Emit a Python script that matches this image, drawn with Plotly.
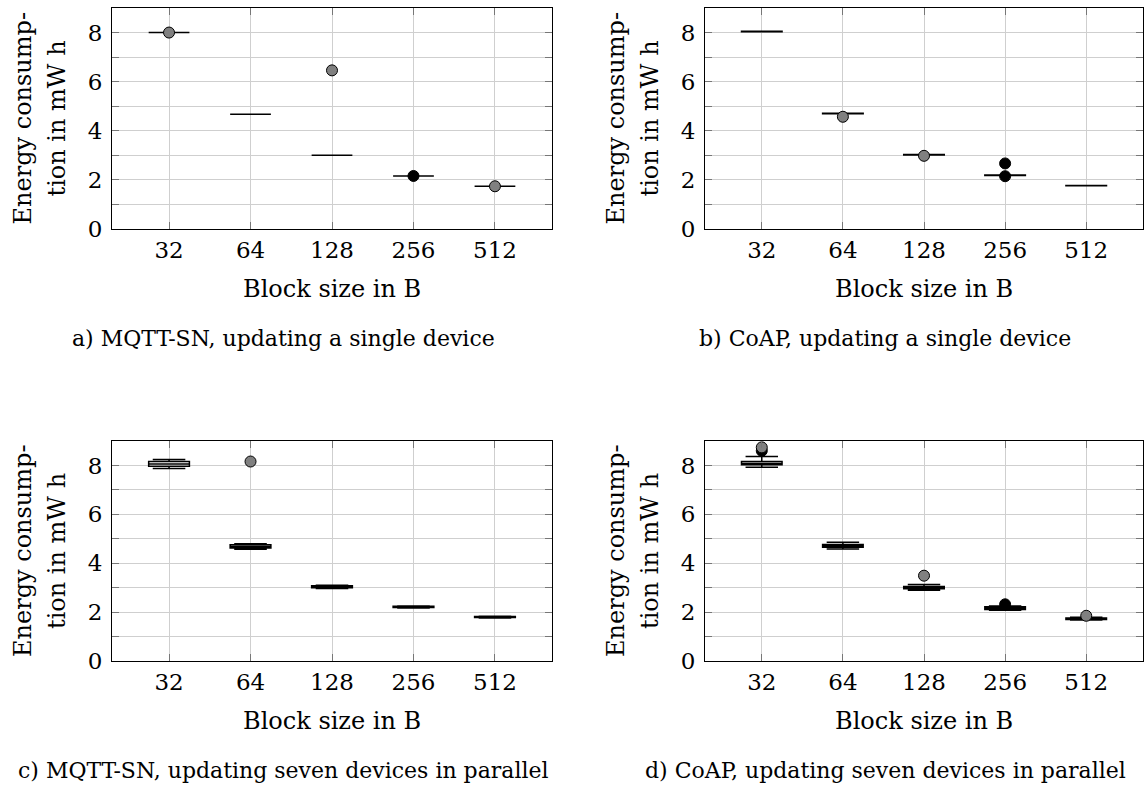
import plotly.graph_objects as go

# ---------------- data ----------------
block_sizes = ["32", "64", "128", "256", "512"]
positions = [1, 2, 3, 4, 5]

# a) MQTT-SN, single device
a_q1 = [8.00, 4.67, 3.00, 2.16, 1.74]
a_med = [8.00, 4.67, 3.00, 2.16, 1.74]
a_q3 = [8.00, 4.67, 3.00, 2.16, 1.74]
a_lo = [8.00, 4.67, 3.00, 2.16, 1.74]
a_hi = [8.00, 4.67, 3.00, 2.16, 1.74]
a_out_x = [1, 3, 4, 5]
a_out_y = [8.00, 6.46, 2.16, 1.74]
a_out_c = ["gray", "gray", "black", "gray"]

# b) CoAP, single device
b_q1 = [8.03, 4.69, 3.01, 2.18, 1.76]
b_med = [8.04, 4.70, 3.02, 2.19, 1.76]
b_q3 = [8.05, 4.71, 3.03, 2.20, 1.77]
b_lo = [8.03, 4.69, 3.01, 2.18, 1.76]
b_hi = [8.05, 4.71, 3.03, 2.20, 1.77]
b_out_x = [2, 3, 4, 4]
b_out_y = [4.57, 2.98, 2.15, 2.67]
b_out_c = ["gray", "gray", "black", "black"]

# c) MQTT-SN, seven devices in parallel
c_q1 = [7.97, 4.62, 3.00, 2.19, 1.78]
c_med = [8.06, 4.68, 3.04, 2.21, 1.80]
c_q3 = [8.16, 4.76, 3.08, 2.24, 1.82]
c_lo = [7.88, 4.57, 2.97, 2.17, 1.76]
c_hi = [8.24, 4.80, 3.10, 2.25, 1.83]
c_out_x = [2]
c_out_y = [8.16]
c_out_c = ["gray"]

# d) CoAP, seven devices in parallel
d_q1 = [8.03, 4.65, 2.96, 2.11, 1.70]
d_med = [8.08, 4.71, 3.00, 2.16, 1.73]
d_q3 = [8.16, 4.77, 3.05, 2.22, 1.76]
d_lo = [7.93, 4.58, 2.89, 2.08, 1.68]
d_hi = [8.37, 4.86, 3.13, 2.25, 1.79]
d_out_x = [1, 1, 3, 4, 5]
d_out_y = [8.60, 8.74, 3.49, 2.32, 1.85]
d_out_c = ["black", "gray", "gray", "black", "gray"]

captions = [
    "a) MQTT-SN, updating a single device",
    "b) CoAP, updating a single device",
    "c) MQTT-SN, updating seven devices in parallel",
    "d) CoAP, updating seven devices in parallel",
]
x_title = "Block size in B"
y_title_lines = ["Energy consump-", "tion in mW h"]
y_ticks = [0, 1, 2, 3, 4, 5, 6, 7, 8, 9]
y_labels = ["0", "", "2", "", "4", "", "6", "", "8", ""]

panels = [
    (a_q1, a_med, a_q3, a_lo, a_hi, a_out_x, a_out_y, a_out_c),
    (b_q1, b_med, b_q3, b_lo, b_hi, b_out_x, b_out_y, b_out_c),
    (c_q1, c_med, c_q3, c_lo, c_hi, c_out_x, c_out_y, c_out_c),
    (d_q1, d_med, d_q3, d_lo, d_hi, d_out_x, d_out_y, d_out_c),
]

# ---------------- layout geometry ----------------
W = 1145
REF_H = 785          # target picture height
H = 798              # page height actually captured (rescaled to REF_H)
FONT = "DejaVu Serif"
px_x = [(112, 552), (705, 1143), (112, 552), (705, 1143)]
px_y = [(8, 229), (8, 229), (441, 661), (441, 661)]
cap_x = [283, 885, 283, 885]
ytitle_x = [(23, 57), (616, 650), (23, 57), (616, 650)]


def fx(p):
    return p / W


def fy(p):
    # p is a target position in the reference picture
    return 1 - p / REF_H


fig = go.Figure()
layout = dict(
    width=W, height=H,
    margin=dict(l=0, r=0, t=0, b=0),
    paper_bgcolor="white", plot_bgcolor="white",
    showlegend=False,
    font=dict(family=FONT, color="black", size=23),
)
annotations = []
color_map = {"gray": "#808080", "black": "#000000"}

for i, (q1, med, q3, lo, hi, ox, oy, oc) in enumerate(panels):
    k = "" if i == 0 else str(i + 1)
    xa, ya = "x" + k, "y" + k
    fig.add_trace(go.Box(
        x=positions, q1=q1, median=med, q3=q3, lowerfence=lo, upperfence=hi,
        xaxis=xa, yaxis=ya, width=0.5, whiskerwidth=0.8,
        fillcolor="white", line=dict(color="black", width=1.5),
        boxpoints=False, hoverinfo="skip",
    ))
    fig.add_trace(go.Scatter(
        x=ox, y=oy, mode="markers", xaxis=xa, yaxis=ya,
        marker=dict(size=11, color=[color_map[c] for c in oc],
                    line=dict(color="black", width=1)),
        hoverinfo="skip",
    ))
    (x0, x1), (y0, y1) = px_x[i], px_y[i]
    common = dict(showline=True, linecolor="black", linewidth=1, mirror="allticks",
                  ticks="inside", ticklen=7, tickcolor="#777777",
                  showgrid=True, gridcolor="#cfcfcf", gridwidth=1, zeroline=False,
                  tickfont=dict(family=FONT, size=23, color="black"))
    layout["xaxis" + k] = dict(
        domain=[fx(x0), fx(x1)], range=[0.3, 5.7], anchor=ya,
        tickvals=positions, ticktext=block_sizes, ticklabelstandoff=0, **common)
    layout["yaxis" + k] = dict(
        domain=[fy(y1), fy(y0)], range=[0, 9], anchor=xa,
        tickvals=y_ticks, ticktext=y_labels, ticklabelstandoff=4, **common)
    # axis titles & captions
    annotations.append(dict(
        text=x_title, x=fx((x0 + x1) / 2), y=fy(y1 + 60), xref="paper", yref="paper",
        showarrow=False, font=dict(family=FONT, size=24), xanchor="center", yanchor="middle"))
    for line, lx in zip(y_title_lines, ytitle_x[i]):
        annotations.append(dict(
            text=line, x=fx(lx), y=fy((y0 + y1) / 2), xref="paper", yref="paper",
            showarrow=False, textangle=-90, font=dict(family=FONT, size=24),
            xanchor="center", yanchor="middle"))
    annotations.append(dict(
        text=captions[i], x=fx(cap_x[i]), y=fy(y1 + 109), xref="paper", yref="paper",
        showarrow=False, font=dict(family=FONT, size=22), xanchor="center", yanchor="middle"))

layout["annotations"] = annotations
fig.update_layout(**layout)
fig.write_html(
    "out.html",
    config={"displayModeBar": False, "staticPlot": True},
    post_script="document.body.style.margin='0';document.body.style.padding='0';",
)
